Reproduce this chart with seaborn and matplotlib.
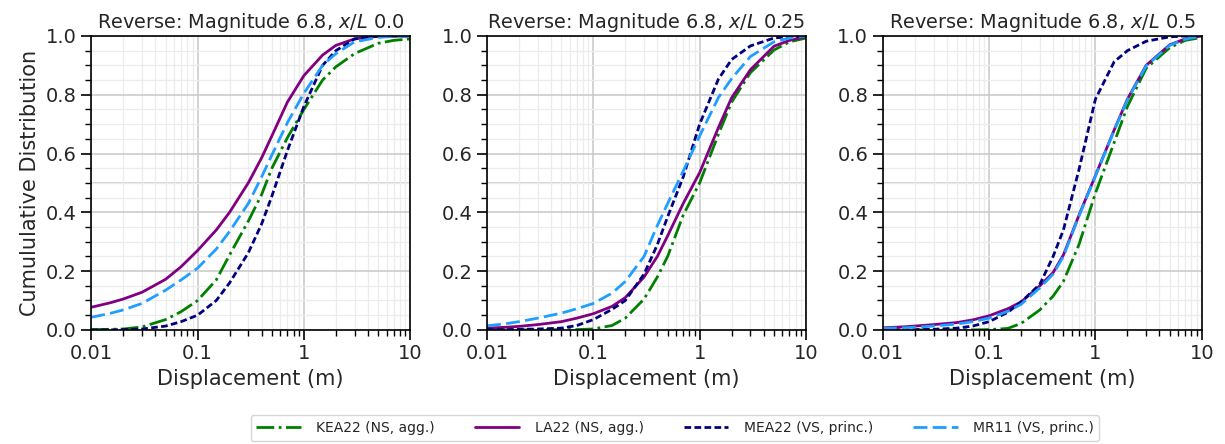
import numpy as np
import pandas as pd
import matplotlib
matplotlib.use("Agg")
import matplotlib.pyplot as plt
import matplotlib.ticker as mticker
import seaborn as sns

# ---- data ----
disp = [0.01, 0.015, 0.02, 0.03, 0.05, 0.07, 0.1, 0.15, 0.2, 0.3, 0.4, 0.5,
        0.7, 1.0, 1.5, 2.0, 3.0, 5.0, 7.0, 10.0]

titles = ["Reverse: Magnitude 6.8, $x/L$ 0.0",
          "Reverse: Magnitude 6.8, $x/L$ 0.25",
          "Reverse: Magnitude 6.8, $x/L$ 0.5"]

models = ["KEA22 (NS, agg.)", "LA22 (NS, agg.)", "MEA22 (VS, princ.)", "MR11 (VS, princ.)"]

# x/L = 0.0
kea_00 = [0.001, 0.002, 0.003, 0.010, 0.035, 0.062, 0.100, 0.170, 0.255, 0.370, 0.460, 0.550,
          0.654, 0.750, 0.850, 0.895, 0.940, 0.975, 0.985, 0.990]
la_00 = [0.077, 0.092, 0.105, 0.128, 0.172, 0.215, 0.270, 0.340, 0.400, 0.500, 0.585, 0.660,
         0.775, 0.865, 0.935, 0.968, 0.990, 0.999, 1.000, 1.000]
mea_00 = [0.000, 0.000, 0.001, 0.003, 0.013, 0.028, 0.050, 0.100, 0.160, 0.262, 0.360, 0.455,
          0.610, 0.760, 0.900, 0.950, 0.990, 1.000, 1.000, 1.000]
mr_00 = [0.043, 0.056, 0.068, 0.090, 0.135, 0.170, 0.210, 0.275, 0.335, 0.430, 0.520, 0.595,
         0.705, 0.805, 0.900, 0.940, 0.980, 0.995, 0.999, 1.000]

# x/L = 0.25
kea_25 = [0.000, 0.000, 0.000, 0.000, 0.001, 0.001, 0.003, 0.015, 0.040, 0.105, 0.180, 0.250,
          0.390, 0.500, 0.665, 0.775, 0.875, 0.952, 0.980, 0.993]
la_25 = [0.006, 0.009, 0.012, 0.018, 0.028, 0.040, 0.055, 0.080, 0.110, 0.180, 0.250, 0.320,
         0.430, 0.535, 0.688, 0.790, 0.885, 0.965, 0.985, 0.998]
mea_25 = [0.001, 0.001, 0.002, 0.003, 0.006, 0.015, 0.035, 0.070, 0.100, 0.190, 0.290, 0.385,
          0.520, 0.700, 0.853, 0.920, 0.966, 0.993, 0.998, 1.000]
mr_25 = [0.014, 0.021, 0.028, 0.040, 0.057, 0.072, 0.090, 0.125, 0.165, 0.250, 0.355, 0.430,
         0.540, 0.660, 0.790, 0.855, 0.930, 0.980, 0.993, 1.000]

# x/L = 0.5
kea_50 = [0.000, 0.000, 0.000, 0.000, 0.000, 0.000, 0.001, 0.005, 0.022, 0.068, 0.115, 0.165,
          0.290, 0.465, 0.637, 0.760, 0.890, 0.960, 0.985, 0.995]
la_50 = [0.007, 0.010, 0.013, 0.018, 0.025, 0.034, 0.048, 0.072, 0.095, 0.150, 0.195, 0.255,
         0.390, 0.525, 0.680, 0.785, 0.900, 0.970, 0.990, 1.000]
mea_50 = [0.000, 0.000, 0.001, 0.002, 0.006, 0.013, 0.028, 0.060, 0.095, 0.155, 0.250, 0.340,
          0.545, 0.785, 0.912, 0.950, 0.982, 0.997, 1.000, 1.000]
mr_50 = [0.005, 0.007, 0.009, 0.013, 0.020, 0.028, 0.040, 0.063, 0.087, 0.143, 0.190, 0.250,
         0.387, 0.523, 0.678, 0.783, 0.898, 0.968, 0.989, 1.000]

panels = [
    {"KEA22 (NS, agg.)": kea_00, "LA22 (NS, agg.)": la_00, "MEA22 (VS, princ.)": mea_00, "MR11 (VS, princ.)": mr_00},
    {"KEA22 (NS, agg.)": kea_25, "LA22 (NS, agg.)": la_25, "MEA22 (VS, princ.)": mea_25, "MR11 (VS, princ.)": mr_25},
    {"KEA22 (NS, agg.)": kea_50, "LA22 (NS, agg.)": la_50, "MEA22 (VS, princ.)": mea_50, "MR11 (VS, princ.)": mr_50},
]

colors = {"KEA22 (NS, agg.)": "#008000", "LA22 (NS, agg.)": "#800080",
          "MEA22 (VS, princ.)": "#000080", "MR11 (VS, princ.)": "#1E9FFF"}
styles = {"KEA22 (NS, agg.)": "-.", "LA22 (NS, agg.)": "-",
          "MEA22 (VS, princ.)": (0, (2.4, 1.2)), "MR11 (VS, princ.)": (0, (5, 1.9))}

sns.set_style("white")
plt.rcParams["font.family"] = ["DejaVu Sans"]

fig, axes = plt.subplots(1, 3, figsize=(12.25, 4.44), dpi=100)
fig.subplots_adjust(left=0.0745, right=0.981, top=0.919, bottom=0.257, wspace=0.241)

for i, ax in enumerate(axes):
    data = panels[i]
    ax.set_xscale("log")
    ax.set_xlim(0.01, 10)
    ax.set_ylim(0, 1)
    ax.yaxis.set_major_locator(mticker.MultipleLocator(0.2))
    ax.yaxis.set_minor_locator(mticker.MultipleLocator(0.05))
    ax.xaxis.set_minor_locator(mticker.LogLocator(base=10, subs=np.arange(2, 10), numticks=10))
    ax.set_xticks([0.01, 0.1, 1, 10])
    ax.set_xticklabels(["0.01", "0.1", "1", "10"])
    ax.xaxis.set_minor_formatter(mticker.NullFormatter())
    ax.grid(True, which="major", color="#c8c8c8", lw=1.1)
    ax.grid(True, which="minor", color="#ececec", lw=0.9)
    ax.axhline(0.5, color="#c8c8c8", lw=1.1, zorder=0.5)
    ax.set_axisbelow(True)

    for m in models:
        df = pd.DataFrame({"disp": disp, "cdf": data[m]})
        sns.lineplot(data=df, x="disp", y="cdf", ax=ax, color=colors[m],
                     linestyle=styles[m], lw=2, label=m, legend=False)

    ax.set_title(titles[i], fontsize=13.9)
    ax.set_xlabel("Displacement (m)", fontsize=15)
    if i == 0:
        ax.set_ylabel("Cumululative Distribution", fontsize=15)
    else:
        ax.set_ylabel("")
    ax.tick_params(axis="both", which="major", labelsize=14, direction="out",
                   length=7, width=1.2, color="black", left=True, bottom=True)
    ax.tick_params(axis="both", which="minor", direction="out", length=4,
                   width=1, color="black", left=True, bottom=True)
    for s in ax.spines.values():
        s.set_color("black")
        s.set_linewidth(1.2)

handles, labels = axes[0].get_legend_handles_labels()
fig.legend(handles, labels, loc="lower center", ncol=4, fontsize=10,
           bbox_to_anchor=(0.551, -0.008), frameon=True, columnspacing=2.9,
           handlelength=3.2, handletextpad=1.1)

fig.savefig("out.png", dpi=100)
